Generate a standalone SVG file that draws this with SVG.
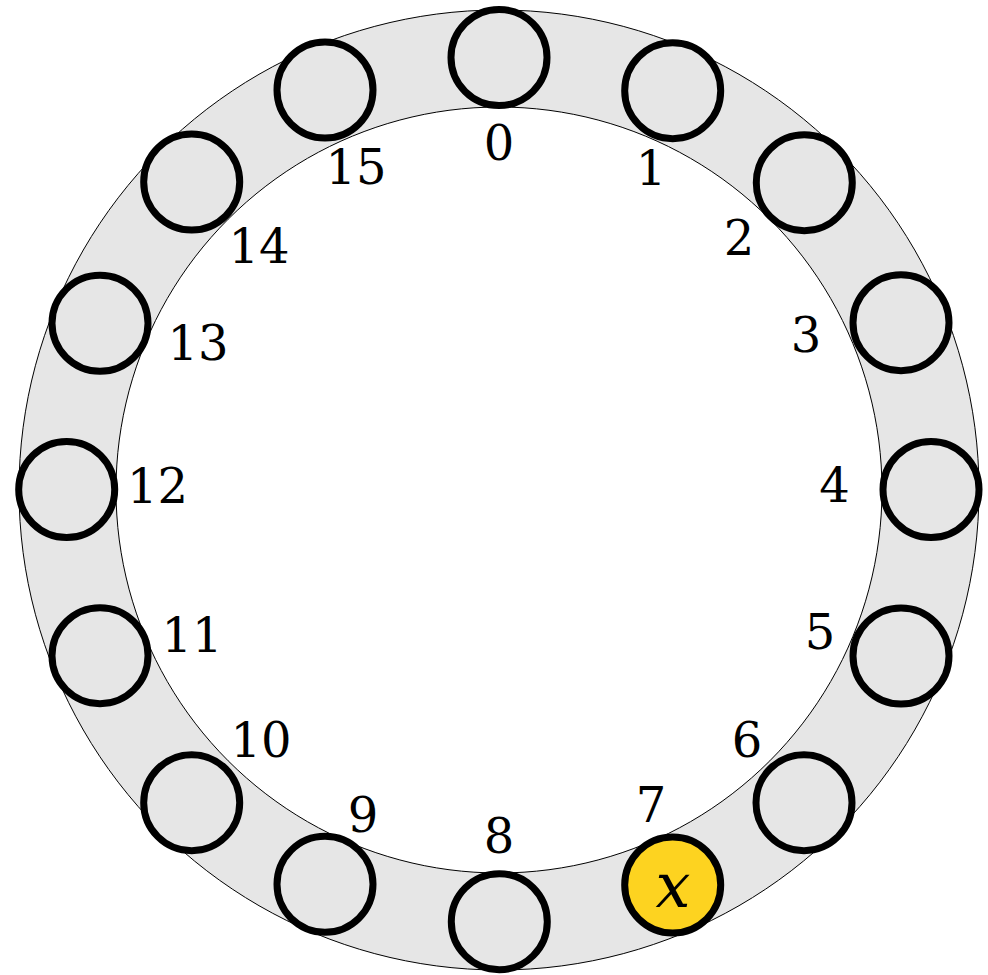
<svg xmlns="http://www.w3.org/2000/svg" width="988" height="975" viewBox="0 0 988 975">
<style>
.node{fill:#e6e6e6;stroke:#000;stroke-width:7}
.sel{fill:#fdd320;stroke:#000;stroke-width:7}
.lbl{font-family:"DejaVu Serif",serif;font-size:48px;fill:#000;text-anchor:middle}
.x{font-family:"DejaVu Serif",serif;font-style:italic;font-size:62px;fill:#000;text-anchor:middle}
</style>
<rect width="988" height="975" fill="#fff"/>
<g id="ring">
<path d="M499,10 a480,480 0 1,0 0.01,0 Z M499,107 a383,383 0 1,1 -0.01,0 Z" fill="#e6e6e6" fill-rule="evenodd" stroke="#000" stroke-width="1"/>
</g>
<g id="connectors"></g>
<g id="n0"><circle class="node" cx="499" cy="57.5" r="48"/><text class="lbl" x="499" y="160">0</text></g>
<g id="n1"><circle class="node" cx="672.7" cy="90.7" r="48"/><text class="lbl" x="651" y="185">1</text></g>
<g id="n2"><circle class="node" cx="804.3" cy="182.7" r="48"/><text class="lbl" x="739" y="255">2</text></g>
<g id="n3"><circle class="node" cx="901" cy="322.7" r="48"/><text class="lbl" x="806" y="352">3</text></g>
<g id="n4"><circle class="node" cx="931" cy="489.5" r="48"/><text class="lbl" x="834.5" y="501.5">4</text></g>
<g id="n5"><circle class="node" cx="901" cy="656" r="48"/><text class="lbl" x="820" y="648.5">5</text></g>
<g id="n6"><circle class="node" cx="804" cy="802.7" r="48"/><text class="lbl" x="747" y="756.5">6</text></g>
<g id="n7"><circle class="sel" cx="672.7" cy="885" r="48"/><text class="lbl" x="651" y="821.5">7</text><text class="x" x="673" y="906.5">x</text></g>
<g id="n8"><circle class="node" cx="499.3" cy="921.7" r="48"/><text class="lbl" x="499" y="852.5">8</text></g>
<g id="n9"><circle class="node" cx="325" cy="884.3" r="48"/><text class="lbl" x="363" y="831.5">9</text></g>
<g id="n10"><circle class="node" cx="191.7" cy="802.7" r="48"/><text class="lbl" x="261" y="756.5">10</text></g>
<g id="n11"><circle class="node" cx="100" cy="655.7" r="48"/><text class="lbl" x="192" y="651.5">11</text></g>
<g id="n12"><circle class="node" cx="66.7" cy="489.5" r="48"/><text class="lbl" x="157.5" y="503.3">12</text></g>
<g id="n13"><circle class="node" cx="100" cy="323.3" r="48"/><text class="lbl" x="198" y="360">13</text></g>
<g id="n14"><circle class="node" cx="191.7" cy="182" r="48"/><text class="lbl" x="259" y="263.3">14</text></g>
<g id="n15"><circle class="node" cx="325" cy="90" r="48"/><text class="lbl" x="356" y="184">15</text></g>
</svg>
